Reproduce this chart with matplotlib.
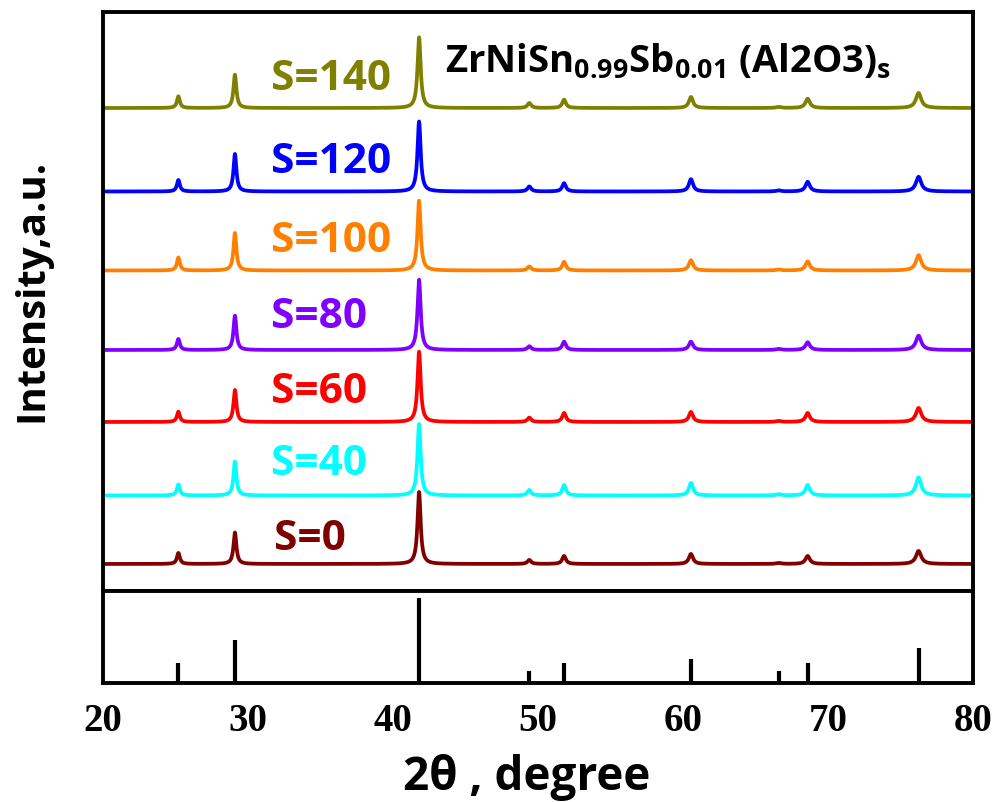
import matplotlib
matplotlib.use("Agg")
import matplotlib.pyplot as plt
import numpy as np

# Reflection positions (2-theta, degree) and peak half widths
peak_pos = [25.2, 29.1, 41.8, 49.4, 51.8, 60.55, 66.6, 68.6, 76.25]
peak_hw = [0.12, 0.12, 0.13, 0.15, 0.15, 0.17, 0.2, 0.18, 0.22]

# Measured patterns: peak heights for each sample, in the order of peak_pos
samples = ["S=0", "S=40", "S=60", "S=80", "S=100", "S=120", "S=140"]
colors = ["#800000", "#00FFFF", "#FF0000", "#8000FF", "#FF8000", "#0000FF", "#808000"]
offsets = [27, 95.5, 169, 241, 320.5, 399.5, 483]
heights = [
    [11, 31.5, 72, 4, 8, 10, 1, 8, 13],
    [11, 34, 71.5, 5.5, 10.5, 12.5, 1.2, 10.5, 18],
    [10.3, 32, 70.3, 4.3, 9, 10, 1, 9, 14],
    [11, 34.3, 70.3, 3.7, 8.3, 8.3, 1, 7.7, 14.3],
    [13, 37.5, 69.8, 4, 8.7, 10.3, 1, 9, 15.3],
    [11.5, 37.5, 70, 5, 8.3, 12.3, 1, 9.7, 14.7],
    [11.7, 33.3, 70.7, 5, 8.3, 11, 1, 9.3, 15],
]
label_x = [31.8, 31.6, 31.6, 31.6, 31.6, 31.6, 31.6]
label_y = [42, 117, 189, 264, 340, 419, 502]

# Standard reference card (relative intensity)
ref_pos = [25.2, 29.1, 41.8, 49.4, 51.8, 60.55, 66.6, 68.6, 76.25]
ref_int = [22, 47, 92, 13, 22, 26, 13, 22, 38]

plt.rcParams["mathtext.fontset"] = "custom"
plt.rcParams["mathtext.rm"] = "Open Sans:bold"
plt.rcParams["mathtext.it"] = "Open Sans:bold"
plt.rcParams["mathtext.bf"] = "Open Sans:bold"

fig = plt.figure(figsize=(9.98, 8.03), dpi=100)
ax1 = fig.add_axes([0.1032, 0.2628, 0.8717, 0.7210])
ax2 = fig.add_axes([0.1032, 0.1482, 0.8717, 0.1146])

x = np.arange(20, 80.001, 0.01)
for name, col, off, hts, lx, ly in zip(samples, colors, offsets, heights, label_x, label_y):
    y = np.zeros_like(x)
    for p, w, h in zip(peak_pos, peak_hw, hts):
        y += h / (1 + ((x - p) / w) ** 2)
    ax1.plot(x, y + off, color=col, lw=2.7)
    ax1.text(lx, ly, name, color=col, fontsize=30.5, fontweight="bold",
             family="Open Sans", ha="left", va="baseline")

ax1.text(43.6, 519, r"ZrNiSn$_{0.99}$Sb$_{0.01}$ (Al2O3)$_{s}$", fontsize=27.5,
         fontweight="bold", family="Open Sans", ha="left", va="baseline")

ax1.set_xlim(20, 80)
ax1.set_ylim(0, 579)
ax1.set_xticks([])
ax1.set_yticks([])

ax2.vlines(ref_pos, 0, ref_int, color="black", lw=3.0)
ax2.set_xlim(20, 80)
ax2.set_ylim(0, 100)
ax2.set_yticks([])
ax2.set_xticks([20, 30, 40, 50, 60, 70, 80])
ax2.tick_params(axis="x", length=0, pad=14)
for lab in ax2.get_xticklabels():
    lab.set_fontfamily("Liberation Serif")
    lab.set_fontweight("bold")
    lab.set_fontsize(28)

for ax in (ax1, ax2):
    for sp in ax.spines.values():
        sp.set_linewidth(2.8)

fig.text(527 / 998, 1 - 790 / 803, "2θ , degree", fontsize=33, fontweight="bold",
         family="Open Sans", ha="center", va="baseline")
fig.text(0.032, 1 - 290 / 803, "Intensity,a.u.", rotation=90, fontsize=29,
         fontweight="bold", family="Open Sans", ha="center", va="center")

fig.savefig("out.png", dpi=100)
